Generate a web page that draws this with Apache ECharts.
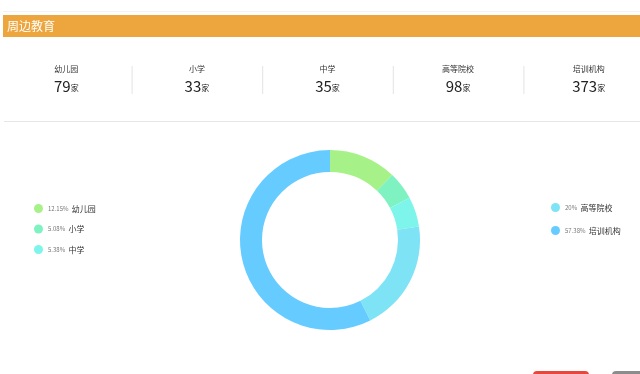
<!DOCTYPE html>
<html><head><meta charset="utf-8">
<script src="https://cdn.jsdelivr.net/npm/echarts@6/dist/echarts.min.js"></script>
<style>html,body{margin:0;padding:0;background:#fff;}#c{width:640px;height:374px;}</style>
</head><body><div id="c"></div>
<script>
var title = '周边教育';
var statNames = ['幼儿园', '小学', '中学', '高等院校', '培训机构'];
var statCounts = [79, 33, 35, 98, 373];
var statUnit = '家';
var pieNames = ['幼儿园', '小学', '中学', '高等院校', '培训机构'];
var piePercents = [12.15, 5.08, 5.38, 20, 57.38];
var pieColors = ['#a6f289', '#7ef2c0', '#7ef5ea', '#7de3f5', '#66ccff'];
var leftLegend = ['幼儿园', '小学', '中学'];
var rightLegend = ['高等院校', '培训机构'];

var FONT = '"Noto Sans CJK SC", sans-serif';
var chart = echarts.init(document.getElementById('c'));
var graphics = [
  {type:'rect', shape:{x:3,y:11,width:637,height:1}, style:{fill:'#f2f2f2'}},
  {type:'rect', shape:{x:3,y:15,width:637,height:22}, style:{fill:'#eda53d'}},
  {type:'text', x:7, y:26, style:{text:title, fill:'#fff', font:'12px ' + FONT, textVerticalAlign:'middle'}},
  {type:'rect', shape:{x:4,y:121,width:636,height:1}, style:{fill:'#e6e6e6'}},
  {type:'rect', shape:{x:533,y:371,width:56,height:10,r:4}, style:{fill:'#e8473d'}},
  {type:'rect', shape:{x:612,y:371,width:40,height:10,r:4}, style:{fill:'#8c8c8c'}}
];
var colW = 130.6;
statNames.forEach(function(n, i){
  var cx = 1 + colW * i + colW / 2;
  graphics.push({type:'text', x:cx, y:69, style:{text:n, fill:'#333', font:'8px ' + FONT, textAlign:'center', textVerticalAlign:'middle'}});
  graphics.push({type:'text', x:cx, y:86, style:{
    text:'{v|' + statCounts[i] + '}{u|' + statUnit + '}', textAlign:'center', textVerticalAlign:'middle',
    rich:{v:{fontSize:15, fill:'#222', fontFamily:FONT}, u:{fontSize:8, fill:'#222', fontFamily:FONT, padding:[4,0,0,0]}}
  }});
  if (i > 0) graphics.push({type:'rect', shape:{x:1 + colW * i, y:66, width:1, height:28}, style:{fill:'#e3e3e3'}});
});

function pct(name){ return piePercents[pieNames.indexOf(name)]; }
var legendCommon = {
  orient:'vertical', icon:'circle', itemWidth:9, itemHeight:9, padding:0,
  formatter:function(name){ return '{p|' + pct(name) + '%} {n|' + name + '}'; },
  textStyle:{rich:{p:{fontSize:6, color:'#777', fontFamily:FONT, lineHeight:11}, n:{fontSize:8, color:'#333', fontFamily:FONT, lineHeight:11}}}
};

chart.setOption({
  animation:false,
  color: pieColors,
  graphic: graphics,
  legend: [
    Object.assign({data:leftLegend, left:34, top:202.5, itemGap:8.5}, legendCommon),
    Object.assign({data:rightLegend, left:551, top:201.5, itemGap:11}, legendCommon)
  ],
  series:[{
    type:'pie', center:[330,240], radius:[68,90], startAngle:90, clockwise:true,
    label:{show:false}, labelLine:{show:false}, silent:true,
    data: pieNames.map(function(n,i){ return {name:n, value:piePercents[i]}; })
  }]
});
</script></body></html>
